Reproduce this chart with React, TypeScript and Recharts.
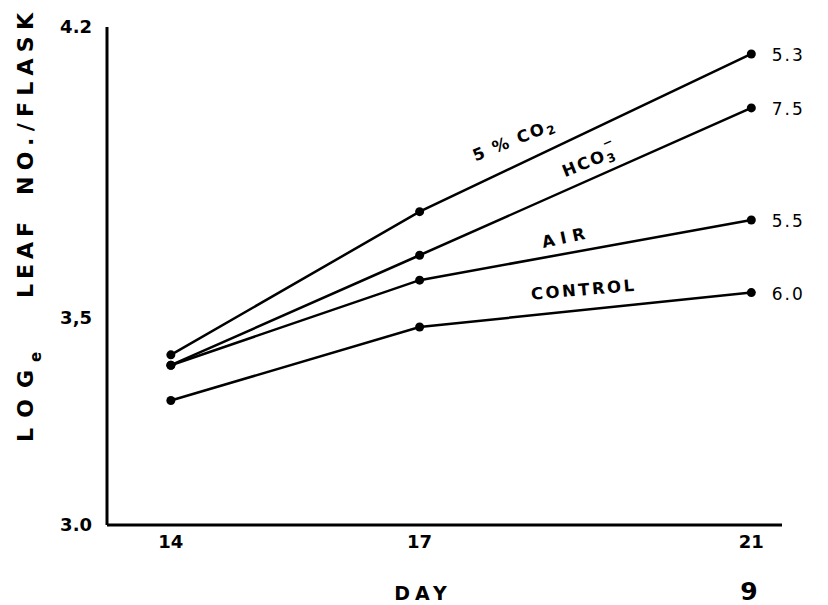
import React from "react";
import {
  LineChart,
  Line,
  XAxis,
  YAxis,
  ReferenceDot,
  LabelList,
} from "recharts";

// ---- data ----
const days = [14, 17, 21];
const co2 = [3.41, 3.755, 4.135];
const hco3 = [3.385, 3.65, 4.005];
const air = [3.385, 3.59, 3.735];
const control = [3.3, 3.477, 3.56];

const seriesKeys = ["co2", "hco3", "air", "control"];
const endLabels = ["5.3", "7.5", "5.5", "6.0"];

const xTicks = [14, 17, 21];
const yTicks = [3.0, 3.5, 4.2];
const yTickLabels = ["3.0", "3,5", "4.2"];

// in-plot series names, anchored in data space (day, value) with text angle
const annotationKeys = ["co2", "hco3", "air", "control"];
const annotationDays = [18.14, 19.06, 18.77, 18.98];
const annotationValues = [3.928, 3.877, 3.693, 3.567];
const annotationAngles = [-22, -22, -12, -5];

const rows = days.map((d, i) => ({
  day: d,
  co2: co2[i],
  hco3: hco3[i],
  air: air[i],
  control: control[i],
}));

const FONT = "'DejaVu Sans', 'Liberation Sans', sans-serif";

function AnnotationText({ k }: { k: string }) {
  if (k === "co2")
    return (
      <>
        5 % CO
        <tspan dy={5} fontSize={12}>
          2
        </tspan>
      </>
    );
  if (k === "hco3")
    return (
      <>
        HCO
        <tspan dy={5} fontSize={12}>
          3
        </tspan>
        <tspan dx={-9} dy={-16} fontSize={12}>
          −
        </tspan>
      </>
    );
  if (k === "air") return <>AIR</>;
  return <>CONTROL</>;
}

const annotationSpacing: Record<string, number> = {
  co2: 2,
  hco3: 2,
  air: 6,
  control: 2.5,
};

function makeAnnotationShape(k: string, angle: number) {
  return (p: any) => {
    const cx = p.cx;
    const cy = p.cy;
    return (
      <text
        x={cx}
        y={cy}
        transform={`rotate(${angle} ${cx} ${cy})`}
        textAnchor="middle"
        dominantBaseline="central"
        fontFamily={FONT}
        fontWeight={700}
        fontSize={16.5}
        letterSpacing={annotationSpacing[k]}
        fill="#000"
      >
        <AnnotationText k={k} />
      </text>
    );
  };
}

function makeEndLabel(label: string) {
  return (p: any) => {
    if (p.index !== days.length - 1) return null;
    return (
      <text
        x={p.x + 37}
        y={p.y + 1}
        textAnchor="middle"
        dominantBaseline="central"
        fontFamily={FONT}
        fontSize={17}
        letterSpacing={2}
        fill="#000"
      >
        {label}
      </text>
    );
  };
}

function renderYTitle() {
  const common = {
    fontFamily: FONT,
    fontWeight: 700,
    fontSize: 22,
    fill: "#000",
    lengthAdjust: "spacing" as const,
  };
  return (
    <g>
      <text x={25} y={434} transform="rotate(-90 25 434)" textLength={72} {...common}>
        LOG
      </text>
      <text
        x={33}
        y={354}
        transform="rotate(-90 33 354)"
        fontFamily={FONT}
        fontWeight={700}
        fontSize={15}
        fill="#000"
      >
        e
      </text>
      <text x={25} y={290} transform="rotate(-90 25 290)" textLength={76} {...common}>
        LEAF
      </text>
      <text x={25} y={187} transform="rotate(-90 25 187)" textLength={182} {...common}>
        NO./FLASK
      </text>
    </g>
  );
}

function renderXTitle() {
  return (
    <g>
      <text
        x={415}
        y={592}
        textAnchor="middle"
        fontFamily={FONT}
        fontWeight={700}
        fontSize={19}
        letterSpacing={5}
        fill="#000"
      >
        DAY
      </text>
      <text
        x={741}
        y={592}
        textAnchor="middle"
        fontFamily={FONT}
        fontWeight={700}
        fontSize={25}
        fill="#000"
      >
        9
      </text>
    </g>
  );
}

export default function App() {
  return (
    <LineChart
      width={820}
      height={597}
      data={rows}
      margin={{ top: 19, right: 46, bottom: 50, left: 39 }}
      style={{ background: "#fff" }}
    >
      <XAxis
        dataKey="day"
        type="number"
        domain={[13.23, 21.37]}
        allowDataOverflow
        ticks={xTicks}
        height={30}
        tickLine={false}
        tickMargin={4}
        axisLine={{ stroke: "#000", strokeWidth: 3 }}
        tick={{ fill: "#000", fontSize: 18, fontWeight: 700, fontFamily: FONT }}
        label={renderXTitle}
      />
      <YAxis
        type="number"
        domain={[3.0, 4.2]}
        ticks={yTicks}
        width={60}
        tickLine={false}
        tickMargin={9}
        axisLine={{ stroke: "#000", strokeWidth: 3 }}
        tick={{ fill: "#000", fontSize: 18, fontWeight: 700, fontFamily: FONT }}
        tickFormatter={(v: number) => yTickLabels[yTicks.indexOf(v)] ?? String(v)}
        label={renderYTitle}
      />
      {seriesKeys.map((k, i) => (
        <Line
          key={k}
          dataKey={k}
          type="linear"
          stroke="#000"
          strokeWidth={2.5}
          dot={{ r: 4.5, fill: "#000", stroke: "#000", strokeWidth: 0 }}
          activeDot={false}
          isAnimationActive={false}
        >
          <LabelList dataKey={k} content={makeEndLabel(endLabels[i])} />
        </Line>
      ))}
      {annotationKeys.map((k, i) => (
        <ReferenceDot
          key={"a-" + k}
          x={annotationDays[i]}
          y={annotationValues[i]}
          r={0}
          shape={makeAnnotationShape(k, annotationAngles[i])}
        />
      ))}
    </LineChart>
  );
}
